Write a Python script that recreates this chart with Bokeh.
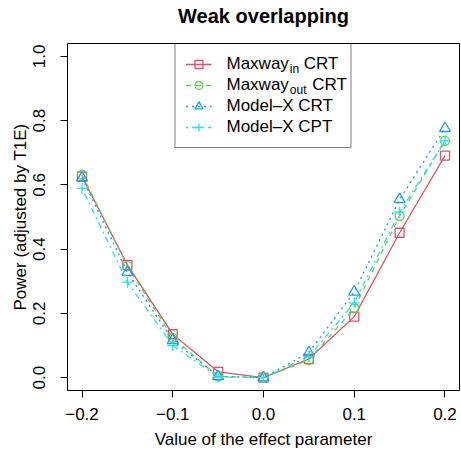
from bokeh.plotting import figure
from bokeh.models import Range1d, FixedTicker, Legend, LegendItem, LinearAxis
from bokeh.core.properties import value
from bokeh.embed import file_html
from bokeh.resources import INLINE

# ---- data ----
effect = [-0.2, -0.15, -0.1, -0.05, 0.0, 0.05, 0.1, 0.15, 0.2]
maxway_in = [0.626, 0.351, 0.135, 0.018, 0.0, 0.058, 0.190, 0.451, 0.691]
maxway_out = [0.632, 0.347, 0.124, 0.004, 0.0, 0.055, 0.216, 0.503, 0.737]
modelx_crt = [0.622, 0.328, 0.116, 0.004, 0.0, 0.078, 0.267, 0.555, 0.776]
modelx_cpt = [0.589, 0.297, 0.100, 0.002, 0.0, 0.066, 0.233, 0.515, 0.737]

x_ticks = [-0.2, -0.1, 0.0, 0.1, 0.2]
x_tick_labels = ["\u22120.2", "\u22120.1", "0.0", "0.1", "0.2"]
y_ticks = [0.0, 0.2, 0.4, 0.6, 0.8, 1.0]
y_tick_labels = ["0.0", "0.2", "0.4", "0.6", "0.8", "1.0"]

title = "Weak overlapping"
x_label = "Value of the effect parameter"
y_label = "Power (adjusted by T1E)"

FONT = "Liberation Sans"

XMIN, XMAX = -0.216, 0.216
YMIN, YMAX = -0.04, 1.04
W, H = 461, 451
BL, BR, BT, BB = 67, 2, 43, 57
FW, FH = W - BL - BR, H - BT - BB

p = figure(width=W, height=H, output_backend="svg", toolbar_location=None,
           x_range=Range1d(XMIN, XMAX), y_range=Range1d(YMIN, YMAX),
           min_border_left=BL, min_border_right=BR, min_border_top=BT, min_border_bottom=BB)
p.background_fill_color = "white"
p.border_fill_color = "white"
p.outline_line_color = "black"
p.outline_line_width = 1
p.xgrid.visible = False
p.ygrid.visible = False

for ax in (p.xaxis[0], p.yaxis[0]):
    ax.axis_line_color = None
    ax.major_tick_in = 0
    ax.major_tick_out = 7
    ax.major_tick_line_color = "black"
    ax.minor_tick_line_color = None
    ax.major_label_text_font = FONT
    ax.major_label_text_font_size = "17px"
    ax.major_label_text_color = "black"
    ax.axis_label_text_font = FONT
    ax.axis_label_text_font_size = "17px"
    ax.axis_label_text_font_style = "normal"
    ax.axis_label_text_color = "black"

p.xaxis.ticker = FixedTicker(ticks=x_ticks)
p.xaxis.major_label_overrides = dict(zip(x_ticks, x_tick_labels))
p.xaxis.axis_label = x_label
p.xaxis.major_label_standoff = 10
p.xaxis.axis_label_standoff = 7

p.yaxis.ticker = FixedTicker(ticks=y_ticks)
p.yaxis.major_label_overrides = dict(zip(y_ticks, y_tick_labels))
p.yaxis.axis_label = y_label
p.yaxis.major_label_orientation = "vertical"
p.yaxis.major_label_standoff = 15
p.yaxis.axis_label_standoff = 1

# title drawn as the label of a tick-less axis above the frame
title_axis = LinearAxis(ticker=FixedTicker(ticks=[]), axis_label=title,
                        axis_line_color=None, major_tick_line_color=None,
                        minor_tick_line_color=None, major_tick_out=0, major_tick_in=0,
                        major_label_standoff=0, axis_label_standoff=17,
                        axis_label_text_font=FONT, axis_label_text_font_size="20px",
                        axis_label_text_font_style="bold", axis_label_text_color="black")
p.add_layout(title_axis, "above")

series = [
    (maxway_in, "#DF536B", "solid", "square", 9),
    (maxway_out, "#61D04F", "5 5", "circle", 9),
    (modelx_crt, "#2297E6", "2 4", "triangle", 11),
    (modelx_cpt, "#28E2E5", "2 4 6 4", "cross", 11),
]
legend_names = ["Maxway", "Maxway", "Model\u2013X CRT", "Model\u2013X CPT"]

items = []
for (vals, col, dash, mk, sz), name in zip(series, legend_names):
    r1 = p.line(effect, vals, line_color=col, line_dash=dash, line_width=1.3)
    r2 = p.scatter(effect, vals, marker=mk, size=sz, line_color=col, fill_color=None, line_width=1.3)
    items.append(LegendItem(label=name, renderers=[r1, r2]))

PAD, GW, GH, LS, LW, SP = 10, 26, 20, 15, 114, 1
legend = Legend(items=items, location="top_center", margin=0, padding=PAD, spacing=SP,
                glyph_width=GW, glyph_height=GH, label_height=GH, label_standoff=LS,
                label_width=LW,
                label_text_font=FONT, label_text_font_size="17px", label_text_color="black",
                border_line_color="black", border_line_width=1,
                background_fill_alpha=0.0)
p.add_layout(legend)


# legend text pieces (subscripts and trailing "CRT") positioned in pixel layout,
# converted to data units
def px_to_x(px):
    return XMIN + (px - BL) / FW * (XMAX - XMIN)


def py_to_y(py):
    return YMAX - (py - BT) / FH * (YMAX - YMIN)


leg_w = 2 * PAD + GW + LS + LW
leg_left = BL + FW / 2 - leg_w / 2
text_x = leg_left + PAD + GW + LS
maxway_w = 62.3
row_c = [BT + PAD + GH / 2 + i * (GH + SP) for i in range(2)]

pieces = [
    ("in", text_x + maxway_w + 0.5, row_c[0] + 5.6, "12px"),
    ("CRT", text_x + maxway_w + 14.5, row_c[0], "17px"),
    ("out", text_x + maxway_w + 0.5, row_c[1] + 5.6, "12px"),
    ("CRT", text_x + maxway_w + 23.0, row_c[1], "17px"),
]
for txt, px, py, size in pieces:
    p.text(x=[px_to_x(px)], y=[py_to_y(py)], text=[txt],
           text_font=value(FONT), text_font_size=size, text_baseline="middle",
           text_align="left", text_color="black")

open("out.html", "w").write(file_html(p, INLINE))
